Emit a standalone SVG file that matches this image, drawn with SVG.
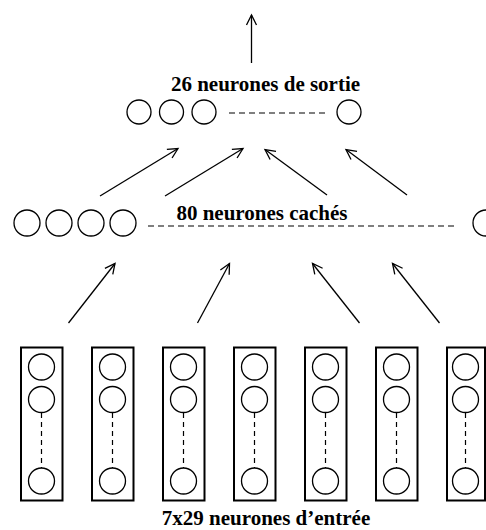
<svg xmlns="http://www.w3.org/2000/svg" width="486" height="530" viewBox="0 0 486 530">
<style>
.c{fill:none;stroke:#000;stroke-width:1.3}
.r{fill:none;stroke:#000;stroke-width:2}
.d{fill:none;stroke:#000;stroke-width:1.2;stroke-dasharray:6 4}
.dv{fill:none;stroke:#000;stroke-width:1.2;stroke-dasharray:5 4}
.a{fill:none;stroke:#000;stroke-width:1.3;marker-end:url(#ah)}
.t{font-family:"Liberation Serif","Times New Roman",serif;font-weight:bold;font-size:21px;fill:#000;text-anchor:middle}
</style>
<defs>
<marker id="ah" markerUnits="userSpaceOnUse" markerWidth="14" markerHeight="14" refX="11" refY="7" orient="auto" viewBox="0 0 14 14">
<path d="M1,2 L11,7 L1,12" fill="none" stroke="#000" stroke-width="1.3"/>
</marker>
</defs>
<rect width="486" height="530" fill="#fff"/>
<g id="output-layer">
<circle class="c" cx="139" cy="112" r="12"/>
<circle class="c" cx="171.5" cy="112" r="12"/>
<circle class="c" cx="204" cy="112" r="12"/>
<circle class="c" cx="349" cy="112" r="12"/>
<line class="d" x1="229" y1="113" x2="328" y2="113"/>
<text class="t" x="265.5" y="91">26 neurones de sortie</text>
</g>
<g id="hidden-layer">
<circle class="c" cx="27" cy="223" r="13"/>
<circle class="c" cx="59" cy="223" r="13"/>
<circle class="c" cx="91" cy="223" r="13"/>
<circle class="c" cx="123" cy="223" r="13"/>
<circle class="c" cx="486" cy="223" r="13"/>
<line class="d" x1="148" y1="226" x2="458" y2="226"/>
<text class="t" x="262" y="220">80 neurones cachés</text>
</g>
<g id="input-layer">
<g id="col1" transform="translate(21,0)">
<rect class="r" x="0" y="347.5" width="41.5" height="153"/>
<circle class="c" cx="20.5" cy="367" r="13"/><circle class="c" cx="20.5" cy="399.5" r="13"/><circle class="c" cx="20.5" cy="481" r="13"/>
<line class="dv" x1="20.5" y1="413" x2="20.5" y2="468"/>
</g>
<g id="col2" transform="translate(92,0)">
<rect class="r" x="0" y="347.5" width="41.5" height="153"/>
<circle class="c" cx="20.5" cy="367" r="13"/><circle class="c" cx="20.5" cy="399.5" r="13"/><circle class="c" cx="20.5" cy="481" r="13"/>
<line class="dv" x1="20.5" y1="413" x2="20.5" y2="468"/>
</g>
<g id="col3" transform="translate(163,0)">
<rect class="r" x="0" y="347.5" width="41.5" height="153"/>
<circle class="c" cx="20.5" cy="367" r="13"/><circle class="c" cx="20.5" cy="399.5" r="13"/><circle class="c" cx="20.5" cy="481" r="13"/>
<line class="dv" x1="20.5" y1="413" x2="20.5" y2="468"/>
</g>
<g id="col4" transform="translate(234,0)">
<rect class="r" x="0" y="347.5" width="41.5" height="153"/>
<circle class="c" cx="20.5" cy="367" r="13"/><circle class="c" cx="20.5" cy="399.5" r="13"/><circle class="c" cx="20.5" cy="481" r="13"/>
<line class="dv" x1="20.5" y1="413" x2="20.5" y2="468"/>
</g>
<g id="col5" transform="translate(305,0)">
<rect class="r" x="0" y="347.5" width="41.5" height="153"/>
<circle class="c" cx="20.5" cy="367" r="13"/><circle class="c" cx="20.5" cy="399.5" r="13"/><circle class="c" cx="20.5" cy="481" r="13"/>
<line class="dv" x1="20.5" y1="413" x2="20.5" y2="468"/>
</g>
<g id="col6" transform="translate(376,0)">
<rect class="r" x="0" y="347.5" width="41.5" height="153"/>
<circle class="c" cx="20.5" cy="367" r="13"/><circle class="c" cx="20.5" cy="399.5" r="13"/><circle class="c" cx="20.5" cy="481" r="13"/>
<line class="dv" x1="20.5" y1="413" x2="20.5" y2="468"/>
</g>
<g id="col7" transform="translate(447,0)">
<rect class="r" x="0" y="347.5" width="38" height="153"/>
<circle class="c" cx="18.5" cy="367" r="13"/><circle class="c" cx="18.5" cy="399.5" r="13"/><circle class="c" cx="18.5" cy="481" r="13"/>
<line class="dv" x1="18.5" y1="413" x2="18.5" y2="468"/>
</g>
<text class="t" x="266" y="525">7x29 neurones d’entrée</text>
</g>
<g id="connectors">
<line class="a" x1="251.5" y1="63" x2="251.5" y2="15"/>
<line class="a" x1="100" y1="196" x2="178" y2="148.5"/>
<line class="a" x1="165" y1="196" x2="243" y2="148.5"/>
<line class="a" x1="327" y1="195" x2="265" y2="149.5"/>
<line class="a" x1="407" y1="195" x2="346" y2="149.5"/>
<line class="a" x1="68.5" y1="323" x2="115" y2="263.5"/>
<line class="a" x1="197.5" y1="323" x2="229.5" y2="263.5"/>
<line class="a" x1="359.5" y1="323" x2="312.5" y2="263.5"/>
<line class="a" x1="439.5" y1="323" x2="392.5" y2="263.5"/>
</g>
</svg>
